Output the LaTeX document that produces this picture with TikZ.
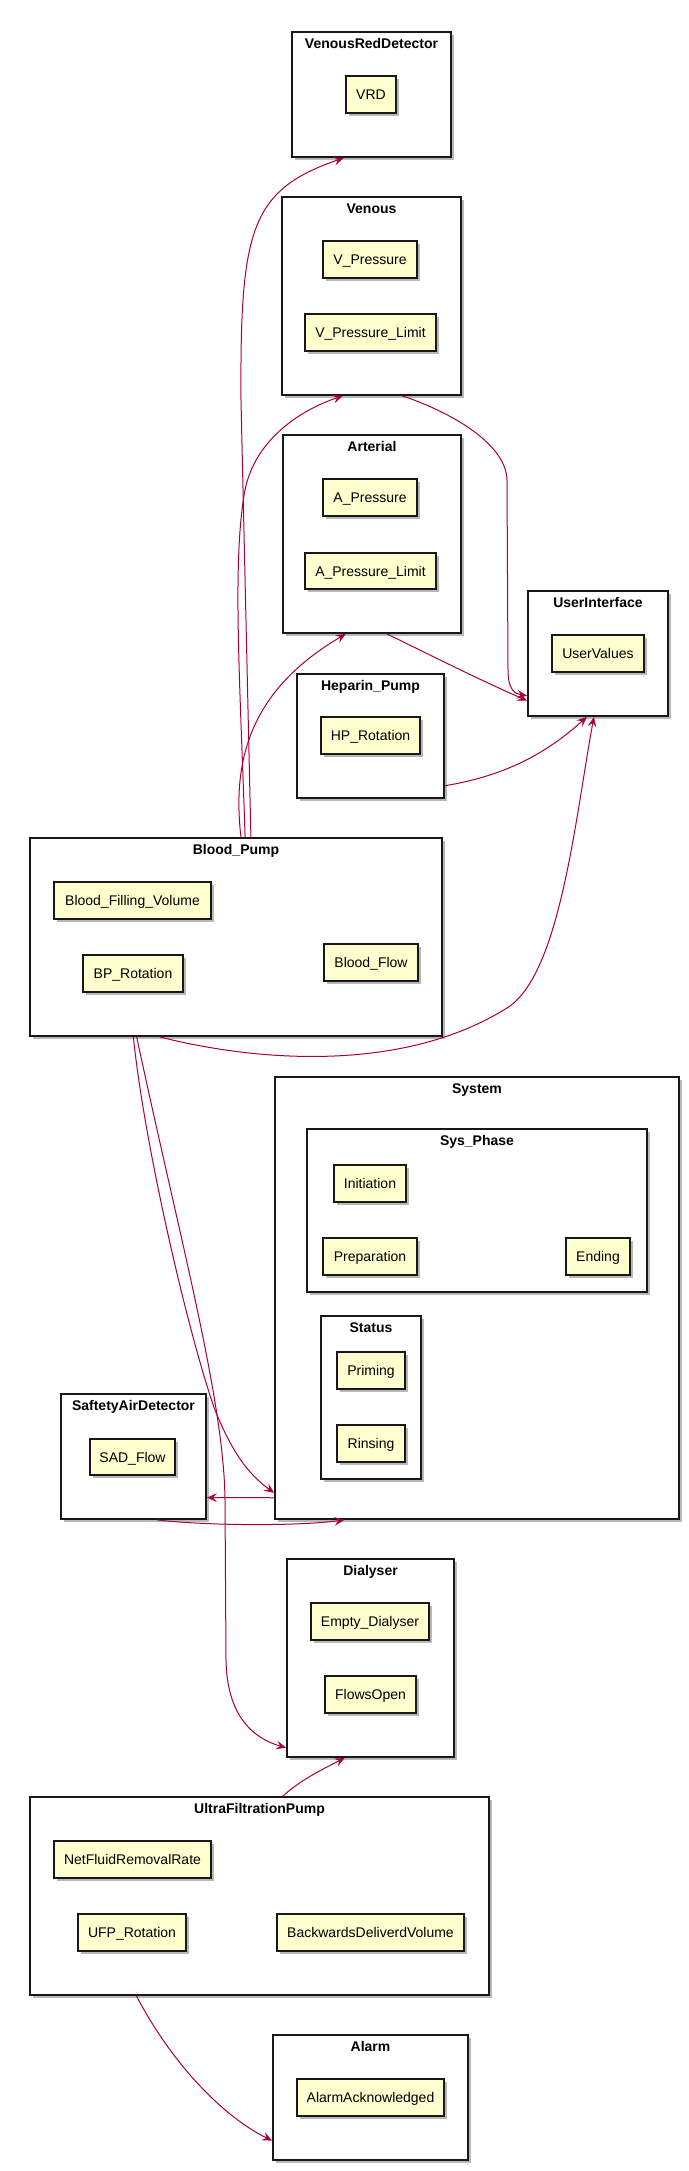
\documentclass[tikz,border=0pt]{standalone}
\usepackage{fontspec}
\setmainfont{Liberation Sans}
\usetikzlibrary{fit,calc,shadows,arrows.meta}
\definecolor{itemfill}{HTML}{FEFECE}
\definecolor{arrowc}{HTML}{A80036}
\definecolor{edgec}{HTML}{181818}
\begin{document}
\begin{tikzpicture}[x=0.75pt,y=-0.75pt,
  shad/.style={drop shadow={shadow xshift=2.5pt,shadow yshift=-2.5pt,opacity=0.28,fill=black}},
  pkg/.style={draw=edgec,line width=1.4pt,fill=white,inner sep=0pt,shad},
  item/.style={draw=edgec,line width=0.8pt,fill=itemfill,inner sep=0pt,shad},
  itxt/.style={font=\fontsize{10.5}{12}\selectfont,inner sep=0pt,text height=7.5pt,text depth=0pt},
  ttl/.style={font=\fontsize{10.5}{12}\selectfont\bfseries,inner sep=0pt,text height=7.5pt,text depth=0pt},
  conn/.style={draw=arrowc,line width=0.75pt,-{Stealth[length=7.5pt,width=6.5pt,inset=3pt]}}]
\useasboundingbox (0,0) rectangle (689,2171);

% containers
\node[pkg,fit={(292,32) (451,157)}] (vrdbox) {};
\node[ttl] (tvrd) at ($(vrdbox.north)+(0,12)$) {VenousRedDetector};
\node[pkg,fit={(282,197) (461,395)}] (venous) {};
\node[ttl] (tven) at ($(venous.north)+(0,12)$) {Venous};
\node[pkg,fit={(283,435) (461,633)}] (arterial) {};
\node[ttl] (tart) at ($(arterial.north)+(0,12)$) {Arterial};
\node[pkg,fit={(528,591) (668,716)}] (ui) {};
\node[ttl] (tui) at ($(ui.north)+(0,12)$) {UserInterface};
\node[pkg,fit={(297,674) (444,798)}] (heparin) {};
\node[ttl] (thep) at ($(heparin.north)+(0,12)$) {Heparin\_Pump};
\node[pkg,fit={(30,838) (442,1036)}] (bp) {};
\node[ttl] (tbp) at ($(bp.north)+(0,12)$) {Blood\_Pump};
\node[pkg,fit={(275,1077) (679,1519)}] (system) {};
\node[ttl] (tsys) at ($(system.north)+(0,12)$) {System};
\node[pkg,fit={(307,1129) (647,1292)}] (sysphase) {};
\node[ttl] (tphase) at ($(sysphase.north)+(0,12)$) {Sys\_Phase};
\node[pkg,fit={(321,1316) (421,1479)}] (status) {};
\node[ttl] (tstat) at ($(status.north)+(0,12)$) {Status};
\node[pkg,fit={(61,1394) (206,1519)}] (sad) {};
\node[ttl] (tsad) at ($(sad.north)+(0,12)$) {SaftetyAirDetector};
\node[pkg,fit={(287,1559) (454,1757)}] (dialyser) {};
\node[ttl] (tdia) at ($(dialyser.north)+(0,12)$) {Dialyser};
\node[pkg,fit={(30,1797) (489,1995)}] (ufp) {};
\node[ttl] (tufp) at ($(ufp.north)+(0,12)$) {UltraFiltrationPump};
\node[pkg,fit={(273,2035) (468,2160)}] (alarm) {};
\node[ttl] (talarm) at ($(alarm.north)+(0,12)$) {Alarm};

% items
\node[item,fit={(346,76) (396,113)},label={[itxt]center:VRD}] (vrd) {};
\node[item,fit={(323,241) (417,278)},label={[itxt]center:V\_Pressure}] (vp) {};
\node[item,fit={(305,314) (436,351)},label={[itxt]center:V\_Pressure\_Limit}] (vpl) {};
\node[item,fit={(323,479) (417,516)},label={[itxt]center:A\_Pressure}] (ap) {};
\node[item,fit={(305,553) (436,589)},label={[itxt]center:A\_Pressure\_Limit}] (apl) {};
\node[item,fit={(552,635) (644,672)},label={[itxt]center:UserValues}] (uv) {};
\node[item,fit={(321,717) (420,754)},label={[itxt]center:HP\_Rotation}] (hpr) {};
\node[item,fit={(54,882) (211,919)},label={[itxt]center:Blood\_Filling\_Volume}] (bfv) {};
\node[item,fit={(83,955) (183,992)},label={[itxt]center:BP\_Rotation}] (bpr) {};
\node[item,fit={(324,944) (418,981)},label={[itxt]center:Blood\_Flow}] (bflow) {};
\node[item,fit={(334,1165) (406,1202)},label={[itxt]center:Initiation}] (init) {};
\node[item,fit={(323,1238) (417,1275)},label={[itxt]center:Preparation}] (prep) {};
\node[item,fit={(566,1238) (630,1275)},label={[itxt]center:Ending}] (ending) {};
\node[item,fit={(337,1352) (405,1389)},label={[itxt]center:Priming}] (priming) {};
\node[item,fit={(337,1425) (405,1462)},label={[itxt]center:Rinsing}] (rinsing) {};
\node[item,fit={(90,1439) (175,1475)},label={[itxt]center:SAD\_Flow}] (sadflow) {};
\node[item,fit={(311,1603) (429,1640)},label={[itxt]center:Empty\_Dialyser}] (empty) {};
\node[item,fit={(325,1676) (416,1713)},label={[itxt]center:FlowsOpen}] (flows) {};
\node[item,fit={(54,1841) (211,1878)},label={[itxt]center:NetFluidRemovalRate}] (nfrr) {};
\node[item,fit={(78,1914) (186,1951)},label={[itxt]center:UFP\_Rotation}] (ufpr) {};
\node[item,fit={(277,1914) (464,1951)},label={[itxt]center:BackwardsDeliverdVolume}] (bdv) {};
\node[item,fit={(297,2079) (444,2116)},label={[itxt]center:AlarmAcknowledged}] (ack) {};

% connectors
% Blood_Pump -> VenousRedDetector
\draw[conn] ($(bp.north west)!0.536!(bp.north east)$) -- (241,400)
  .. controls (240,230) and (250,190) .. ($(vrdbox.south west)!0.327!(vrdbox.south east)$);
% Blood_Pump -> Venous
\draw[conn] ($(bp.north west)!0.522!(bp.north east)$)
  .. controls (240,680) and (232,560) .. (245,490)
  .. controls (255,440) and (300,410) .. ($(venous.south west)!0.341!(venous.south east)$);
% Blood_Pump -> Arterial
\draw[conn] ($(bp.north west)!0.512!(bp.north east)$)
  .. controls (232,760) and (250,690) .. ($(arterial.south west)!0.354!(arterial.south east)$);
% Venous -> UserInterface
\draw[conn] ($(venous.south west)!0.670!(venous.south east)$)
  .. controls (440,408) and (506,440) .. (507,480) -- (508,670)
  .. controls (508,690) and (515,694) .. ($(ui.north west)!0.832!(ui.south west)$);
% Arterial -> UserInterface
\draw[conn] ($(arterial.south west)!0.584!(arterial.south east)$)
  .. controls (430,655) and (480,680) .. ($(ui.north west)!0.872!(ui.south west)$);
% Heparin_Pump -> UserInterface
\draw[conn] ($(heparin.north east)!0.895!(heparin.south east)$)
  .. controls (510,775) and (550,750) .. ($(ui.south west)!0.421!(ui.south east)$);
% Blood_Pump -> UserInterface
\draw[conn] ($(bp.south west)!0.316!(bp.south east)$)
  .. controls (250,1060) and (400,1075) .. (507,1008)
  .. controls (560,975) and (575,820) .. ($(ui.south west)!0.471!(ui.south east)$);
% Blood_Pump -> System
\draw[conn] ($(bp.south west)!0.252!(bp.south east)$)
  .. controls (145,1150) and (190,1340) .. (215,1410)
  .. controls (232,1452) and (248,1474) .. ($(system.north west)!0.939!(system.south west)$);
% Blood_Pump -> Dialyser
\draw[conn] ($(bp.south west)!0.260!(bp.south east)$)
  .. controls (180,1240) and (224,1400) .. (225,1500) -- (226,1660)
  .. controls (227,1715) and (252,1738) .. ($(dialyser.north west)!0.949!(dialyser.south west)$);
% System -> SaftetyAirDetector
\draw[conn] ($(system.north west)!0.950!(system.south west)$) -- ($(sad.north east)!0.824!(sad.south east)$);
% SaftetyAirDetector -> System
\draw[conn] ($(sad.south west)!0.662!(sad.south east)$)
  .. controls (210,1526) and (300,1526) .. ($(system.south west)!0.173!(system.south east)$);
% UltraFiltrationPump -> Dialyser
\draw[conn] ($(ufp.north west)!0.551!(ufp.north east)$)
  .. controls (300,1780) and (325,1768) .. ($(dialyser.south west)!0.347!(dialyser.south east)$);
% UltraFiltrationPump -> Alarm
\draw[conn] ($(ufp.south west)!0.233!(ufp.south east)$)
  .. controls (170,2060) and (220,2115) .. ($(alarm.north west)!0.84!(alarm.south west)$);
\end{tikzpicture}
\end{document}
